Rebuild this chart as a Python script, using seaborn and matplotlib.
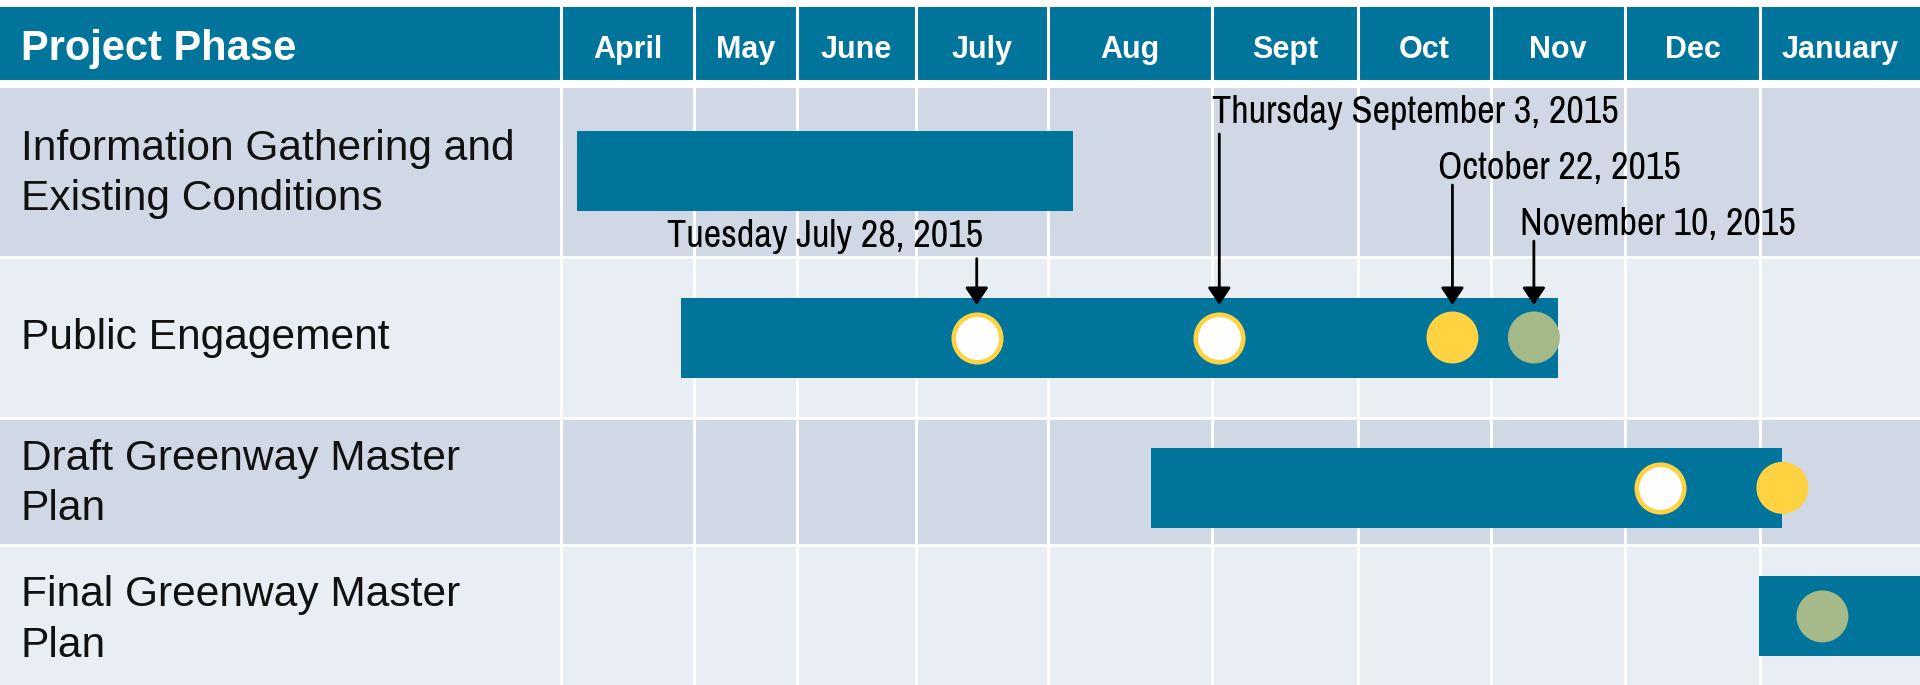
import numpy as np
import pandas as pd
import matplotlib
matplotlib.use('Agg')
import matplotlib.pyplot as plt
import seaborn as sns
from matplotlib import font_manager

# --- data ---
months = ['April', 'May', 'June', 'July', 'Aug', 'Sept', 'Oct', 'Nov', 'Dec', 'January']
phases = ['Information Gathering and\nExisting Conditions', 'Public Engagement',
          'Draft Greenway Master\nPlan', 'Final Greenway Master\nPlan']
# bar spans in month units (0 = start of April)
bar_start = [0.12, 0.90, 4.63, 8.99]
bar_end = [4.15, 7.50, 9.14, 10.0]

milestone_phase = [1, 1, 1, 1, 2, 2, 3]
milestone_pos = [3.46, 5.05, 6.71, 7.32, 8.26, 9.14, 9.39]
milestone_kind = ['open', 'open', 'yellow', 'green', 'open', 'yellow', 'green']

callout_text = ['Tuesday July 28, 2015', 'Thursday September 3, 2015',
                'October 22, 2015', 'November 10, 2015']
callout_pos = [3.46, 5.05, 6.71, 7.32]

# --- layout (pixel edges of the table) ---
col_px = [0, 561, 694, 797, 916, 1048, 1212, 1358, 1491, 1625, 1760, 1920]
col_units = [-1] + list(range(0, 11))
row_px = [0, 7, 84, 257, 418, 545, 685]
row_units = [-1.6, -1.5, -0.5, 0.5, 1.5, 2.5, 3.5]

text_x = [0.80, 5.0, 6.60, 7.216]
text_y = [0.442, -0.275, 0.049, 0.373]
arrow_top = [0.51, -0.211, 0.084, 0.408]
arrow_tip = 0.798
bar_center = [0.0, 0.0, 0.05, 0.01]
label_shift = [0.02, 0.005, 0.02, 0.04]
row_height_px = np.diff(row_px)[2:]
bar_height = 80 / row_height_px

teal = '#00749A'
dark_row = '#D0D8E6'
light_row = '#E9EDF4'
yellow = '#FFD241'
green = '#A5BA88'

sns.set_style('white')
plt.rcParams['font.family'] = ['Liberation Sans', 'DejaVu Sans']

# look for a narrow / condensed face for the callouts
callout_font = None
callout_size = 22.5
for f in font_manager.fontManager.ttflist:
    if 'Narrow' in f.name and f.style == 'normal' and f.weight in (400, 'normal', 'regular'):
        callout_font = font_manager.FontProperties(fname=f.fname)
        callout_size = 27.6
        break
if callout_font is None:
    for f in font_manager.fontManager.ttflist:
        if f.stretch in ('condensed', 'semi-condensed') and f.style == 'normal' \
                and f.weight in (400, 'normal', 'regular') and 'Sans' in f.name:
            callout_font = font_manager.FontProperties(fname=f.fname)
            callout_size = 25
            break
if callout_font is None:
    callout_font = font_manager.FontProperties(family=['Liberation Sans', 'DejaVu Sans'])
callout_font.set_size(callout_size)

fig = plt.figure(figsize=(19.2, 6.85), dpi=100)
ax = fig.add_axes([0, 0, 1, 1])
ax.set_xscale('function', functions=(lambda x: np.interp(x, col_units, col_px),
                                     lambda p: np.interp(p, col_px, col_units)))
ax.set_yscale('function', functions=(lambda y: np.interp(y, row_units, row_px),
                                     lambda p: np.interp(p, row_px, row_units)))
ax.set_xlim(-1, 10)
ax.set_ylim(3.5, -1.6)
ax.axis('off')

# header + row backgrounds
ax.axhspan(-1.5, -0.5, color=teal, lw=0, zorder=0)
for i in range(len(phases)):
    ax.axhspan(i - 0.5, i + 0.5, color=dark_row if i % 2 == 0 else light_row, lw=0, zorder=0)

# white grid separators
for x in range(0, 10):
    ax.axvline(x, color='white', lw=2.2, zorder=1)
ax.axhline(-0.5, color='white', lw=5.8, zorder=1)
for y in [0.5, 1.5, 2.5]:
    ax.axhline(y, color='white', lw=2.0, zorder=1)

# header text
ax.text(-0.963, -0.812, 'Project Phase', color='white', fontsize=30, fontweight='bold',
        va='baseline', ha='left', zorder=5)
for i, m in enumerate(months):
    ax.text(i + 0.5, -0.835, m, color='white', fontsize=22, fontweight='bold',
            va='baseline', ha='center', zorder=5)

# phase labels
for i, p in enumerate(phases):
    ax.text(-0.963, i + label_shift[i], p, color='#111111', fontsize=30.6, va='center',
            ha='left', linespacing=1.33, zorder=5)

# bars
ax.barh(np.array(bar_center) + np.arange(len(phases)), np.array(bar_end) - np.array(bar_start),
        left=bar_start, height=bar_height, color=teal, lw=0, zorder=2)

# milestones
ms = pd.DataFrame({'pos': milestone_pos, 'phase': milestone_phase, 'kind': milestone_kind})
ms['y'] = ms['phase'] + ms['phase'].map(lambda p: bar_center[p])
opened = ms[ms['kind'] == 'open']
filled = ms[ms['kind'] != 'open']
sns.scatterplot(data=opened, x='pos', y='y', s=1170, color='white', edgecolor=yellow,
                linewidth=3.3, ax=ax, zorder=3, legend=False)
sns.scatterplot(data=filled, x='pos', y='y', hue='kind', palette={'yellow': yellow, 'green': green},
                s=1400, linewidth=0, ax=ax, zorder=3, legend=False)

# callouts
for txt, xm, tx, ty, top in zip(callout_text, callout_pos, text_x, text_y, arrow_top):
    ax.annotate('', xy=(xm, arrow_tip), xytext=(xm, top),
                arrowprops=dict(arrowstyle='-|>,head_length=0.75,head_width=0.5',
                                mutation_scale=14, color='black', lw=2,
                                shrinkA=0, shrinkB=0), zorder=4)
    ax.text(tx, ty, txt, fontproperties=callout_font,
            va='baseline', ha='left', color='black', zorder=5)

fig.savefig('out.png', dpi=100)
